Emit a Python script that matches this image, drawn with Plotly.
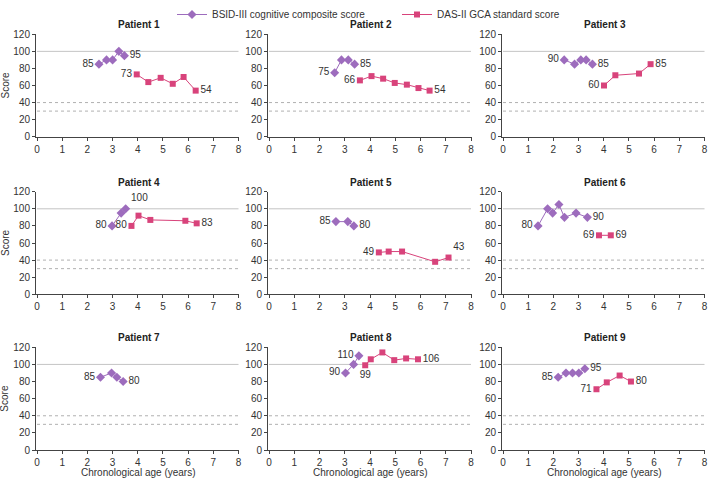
import plotly.graph_objects as go
from plotly.subplots import make_subplots

W, H = 709, 478

patients = ["Patient 1", "Patient 2", "Patient 3", "Patient 4", "Patient 5",
            "Patient 6", "Patient 7", "Patient 8", "Patient 9"]

bsid_x = [
    [2.46, 2.76, 3.0, 3.25, 3.47],
    [2.6, 2.87, 3.14, 3.39],
    [2.43, 2.84, 3.09, 3.3, 3.55],
    [2.98, 3.34, 3.52],
    [2.65, 3.12, 3.36],
    [1.39, 1.77, 1.97, 2.22, 2.44, 2.9, 3.35],
    [2.52, 2.96, 3.17, 3.42],
    [3.03, 3.35, 3.56],
    [2.19, 2.5, 2.76, 3.01, 3.25],
]
bsid_y = [
    [85, 90, 90, 100, 95],
    [75, 90, 90, 85],
    [90, 85, 90, 90, 85],
    [80, 95, 100],
    [85, 85, 80],
    [80, 100, 95, 105, 90, 95, 90],
    [85, 90, 85, 80],
    [90, 100, 110],
    [85, 90, 90, 90, 95],
]
das_x = [
    [3.96, 4.42, 4.91, 5.39, 5.82, 6.3],
    [3.6, 4.06, 4.52, 4.98, 5.46, 5.92, 6.36],
    [4.01, 4.46, 5.4, 5.86],
    [3.75, 4.03, 4.5, 5.89, 6.34],
    [4.35, 4.74, 5.27, 6.58, 7.11],
    [3.81, 4.28],
    [],
    [3.81, 4.03, 4.49, 4.96, 5.43, 5.9],
    [3.71, 4.12, 4.63, 5.08],
]
das_y = [
    [73, 64, 69, 62, 70, 54],
    [66, 71, 68, 63, 61, 57, 54],
    [60, 72, 74, 85],
    [80, 92, 87, 86, 83],
    [49, 50, 50, 38, 43],
    [69, 69],
    [],
    [99, 106, 114, 105, 107, 106],
    [71, 79, 87, 80],
]
# label positions (first, last) per patient
bsid_pos = [("middle left", "middle right")] * 9
bsid_pos = list(bsid_pos)
bsid_pos[3] = ("middle left", "top right")
bsid_pos[7] = ("middle left", "middle left")
das_pos = [("middle left", "middle right")] * 9
das_pos = list(das_pos)
das_pos[4] = ("middle left", "top right")
das_pos[7] = ("bottom center", "middle right")

x_ticks = [0, 1, 2, 3, 4, 5, 6, 7, 8]
y_ticks = [0, 20, 40, 60, 80, 100, 120]

PURPLE = "#9d6cbd"
PINK = "#d8437b"
TXT = "#333333"
FONT = "Liberation Sans, Arial, sans-serif"

fig = make_subplots(rows=3, cols=3)

col_dom = [(36, 239), (268, 471.5), (502, 705)]
row_dom = [(34.3, 136.7), (191.7, 294.3), (347.3, 450)]


def labels(vals, pos):
    n = len(vals)
    text = [""] * n
    tpos = ["middle right"] * n
    if n:
        text[0] = str(vals[0])
        text[-1] = str(vals[-1])
        tpos[0] = pos[0]
        tpos[-1] = pos[1]
    return text, tpos


for i in range(9):
    r, c = i // 3 + 1, i % 3 + 1
    t, p = labels(bsid_y[i], bsid_pos[i])
    fig.add_trace(go.Scatter(
        x=bsid_x[i], y=bsid_y[i], mode="lines+markers+text",
        text=t, textposition=p, textfont=dict(size=10, color=TXT, family=FONT),
        line=dict(color=PURPLE, width=1),
        marker=dict(symbol="diamond", size=7, color=PURPLE),
        name="BSID-III cognitive composite score", showlegend=(i == 0),
        legendgroup="b", cliponaxis=False), row=r, col=c)
    t, p = labels(das_y[i], das_pos[i])
    fig.add_trace(go.Scatter(
        x=das_x[i], y=das_y[i], mode="lines+markers+text",
        text=t, textposition=p, textfont=dict(size=10, color=TXT, family=FONT),
        line=dict(color=PINK, width=1),
        marker=dict(symbol="square", size=6, color=PINK),
        name="DAS-II GCA standard score", showlegend=(i == 0),
        legendgroup="d", cliponaxis=False), row=r, col=c)

    for yv, dash, colr in [(100, "solid", "#c4c4c4"), (40, "dot", "#b0b0b0"), (30, "dot", "#b0b0b0")]:
        fig.add_shape(type="line", x0=0, x1=8, y0=yv, y1=yv,
                      line=dict(color=colr, width=1, dash=dash),
                      layer="below", row=r, col=c)

    xa = "xaxis" if i == 0 else f"xaxis{i+1}"
    ya = "yaxis" if i == 0 else f"yaxis{i+1}"
    cd = col_dom[c - 1]
    rd = row_dom[r - 1]
    fig.layout[xa].update(
        domain=[cd[0] / W, cd[1] / W], range=[-0.04, 8.02], automargin=False,
        tickvals=x_ticks, ticks="outside", ticklen=3, tickcolor="#444",
        showline=True, linecolor="#444", linewidth=1, showgrid=False, zeroline=False,
        tickfont=dict(size=10, color=TXT, family=FONT))
    fig.layout[ya].update(
        domain=[(H - rd[1]) / H, (H - rd[0]) / H], range=[0, 120], automargin=False,
        tickvals=y_ticks, ticks="outside", ticklen=3, tickcolor="#444",
        showline=True, linecolor="#444", linewidth=1, showgrid=False, zeroline=False,
        tickfont=dict(size=10, color=TXT, family=FONT))
    fig.add_annotation(text="<b>" + patients[i] + "</b>", xref="paper", yref="paper",
                       x=(cd[0] + cd[1] + 2) / 2 / W, y=(H - rd[0] + 2) / H,
                       xanchor="center", yanchor="bottom", showarrow=False,
                       font=dict(size=10, color="#222", family=FONT))
    if c == 1:
        fig.add_annotation(text="Score", xref="paper", yref="paper",
                           x=5 / W, y=(H - (rd[0] + rd[1]) / 2) / H, textangle=-90,
                           xanchor="center", yanchor="middle", showarrow=False,
                           font=dict(size=10, color=TXT, family=FONT))
    if r == 3:
        fig.add_annotation(text="Chronological age (years)", xref="paper", yref="paper",
                           x=(cd[0] + cd[1] + 2) / 2 / W, y=(H - 472.7) / H,
                           xanchor="center", yanchor="middle", showarrow=False,
                           font=dict(size=10, color=TXT, family=FONT))

fig.update_layout(
    width=W, height=H, margin=dict(l=0, r=0, t=0, b=0),
    paper_bgcolor="white", plot_bgcolor="white",
    font=dict(family=FONT, size=10, color=TXT),
    legend=dict(orientation="h", x=172 / W, xanchor="left",
                y=1.0, yanchor="top",
                entrywidth=180, entrywidthmode="pixels",
                font=dict(size=10, color=TXT, family=FONT),
                bgcolor="rgba(0,0,0,0)", itemwidth=30),
)

fig.write_html("out.html")
